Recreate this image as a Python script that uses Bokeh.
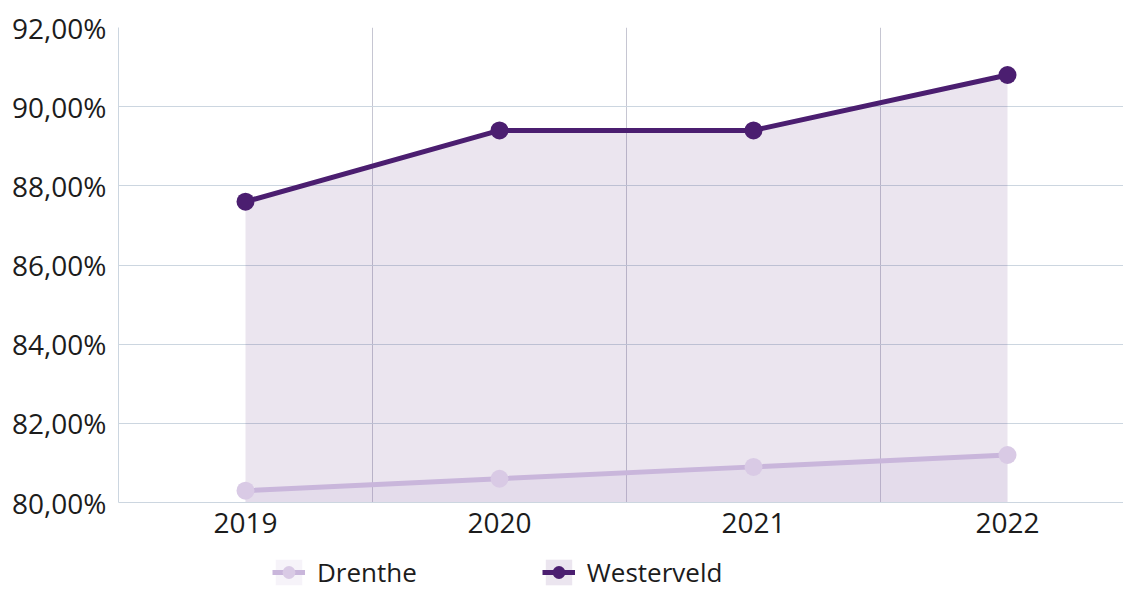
from bokeh.plotting import figure
from bokeh.models import FixedTicker, Legend, LegendItem, ColumnDataSource, Range1d
from bokeh.embed import file_html
from bokeh.resources import INLINE

years = ["2019", "2020", "2021", "2022"]
drenthe = [80.3, 80.6, 80.9, 81.2]
westerveld = [87.6, 89.4, 89.4, 90.8]
y_ticks = [80, 82, 84, 86, 88, 90, 92]
y_tick_labels = ["80,00%", "82,00%", "84,00%", "86,00%", "88,00%", "90,00%", "92,00%"]

x = list(range(len(years)))
base = [y_ticks[0]] * len(years)
src = ColumnDataSource(dict(x=x, d=drenthe, w=westerveld, base=base))

FONT = "Open Sans"
TXT = "#1c1c1c"
W_COL = "#4b1e70"
D_LINE = "#c9b6db"
D_PT = "#d9cae5"

W, H, TOP, LEFT = 1123, 590, 27, 118
px_per_unit = 475 / (y_ticks[-1] - y_ticks[0])
y_start = y_ticks[-1] - (H - TOP) / px_per_unit
x_end = -0.5 + (W - LEFT) / 254

p = figure(width=W, height=H, x_range=Range1d(-0.5, x_end), y_range=Range1d(y_start, y_ticks[-1]),
           output_backend="svg", toolbar_location=None,
           min_border_left=LEFT, min_border_right=0, min_border_top=TOP, min_border_bottom=0)
p.outline_line_color = None

w_area = p.varea(x="x", y1="base", y2="w", source=src, fill_color=W_COL, fill_alpha=0.115)
d_area = p.varea(x="x", y1="base", y2="d", source=src, fill_color="#c0a8d8", fill_alpha=0.14)
d_line = p.line(x="x", y="d", source=src, line_color=D_LINE, line_width=5)
w_line = p.line(x="x", y="w", source=src, line_color=W_COL, line_width=5)
d_pts = p.scatter(x="x", y="d", source=src, size=18, fill_color=D_PT, line_color=None)
w_pts = p.scatter(x="x", y="w", source=src, size=18, fill_color=W_COL, line_color=None)

# axes
p.yaxis.ticker = FixedTicker(ticks=y_ticks)
p.yaxis.major_label_overrides = {t: l for t, l in zip(y_ticks, y_tick_labels)}
p.yaxis.bounds = (y_ticks[0], y_ticks[-1])
p.xaxis.ticker = FixedTicker(ticks=x)
p.xaxis.major_label_overrides = {i: y for i, y in zip(x, years)}
p.xaxis.fixed_location = y_ticks[0]
for ax in (p.xaxis, p.yaxis):
    ax.major_tick_line_color = None
    ax.minor_tick_line_color = None
    ax.axis_line_color = "#ccd6e0"
    ax.major_label_text_font = FONT
    ax.major_label_text_font_size = "28px"
    ax.major_label_text_color = TXT
p.yaxis.major_label_standoff = 6
p.xaxis.major_label_standoff = 4

p.ygrid.ticker = FixedTicker(ticks=y_ticks)
p.ygrid.grid_line_color = "#ccd6e0"
p.xgrid.ticker = FixedTicker(ticks=[0.5, 1.5, 2.5])
p.xgrid.grid_line_color = "#c6c6d2"
p.xgrid.cross_bounds = (y_ticks[0], y_ticks[-1])

legend = Legend(items=[LegendItem(label="Drenthe", renderers=[d_area, d_line, d_pts]),
                       LegendItem(label="Westerveld", renderers=[w_area, w_line, w_pts])],
                orientation="horizontal", location=(154, 0),
                label_text_font=FONT, label_text_font_size="26px", label_text_color=TXT,
                border_line_color=None, background_fill_alpha=0, padding=0, margin=0,
                spacing=125, glyph_width=33, glyph_height=32, label_standoff=12)
p.add_layout(legend)

open("out.html", "w").write(file_html(p, INLINE))
